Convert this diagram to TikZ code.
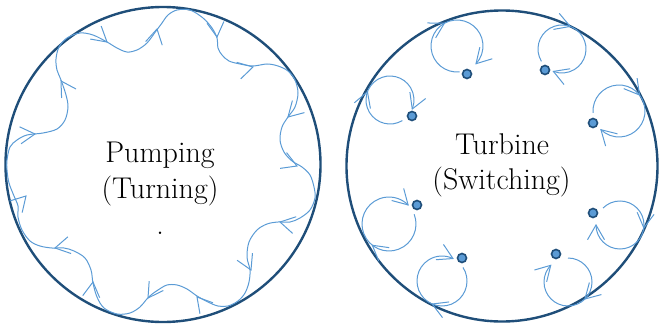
\documentclass[tikz,border=0pt]{standalone}
\definecolor{dkb}{RGB}{31,78,121}
\definecolor{ltb}{RGB}{91,155,213}
\newcommand\chevr[3]{\draw[chev] (#1,#2) ++(#3+150:17) -- (#1,#2) -- ++(#3-150:17);}
\newcommand\loopc[6]{%
  \draw[wave] (#1,#2) ++(#4:#3) arc[start angle=#4, end angle=#5, radius=#3];
  \path (#1,#2) ++(#5:#3) coordinate (tA) (#1,#2) ++(#6:#3) coordinate (tB);
  \draw[chev] (tA) ++(#5+240:17) -- (tA) -- ++(#5-60:17);
  \draw[chev] (tB) ++(#6+240:17) -- (tB) -- ++(#6-60:17);}
\begin{document}
\begin{tikzpicture}[x=1pt,y=-1pt,
  rim/.style={draw=dkb,line width=2.4pt},
  wave/.style={draw=ltb,line width=1pt},
  chev/.style={draw=ltb,line width=1pt},
  pivot/.style={circle,draw=dkb,fill=ltb,line width=1.6pt,minimum size=9pt,inner sep=0pt},
  lbl/.style={font=\fontsize{30}{36}\selectfont,inner sep=0pt,anchor=base}]
\useasboundingbox (0,0) rectangle (659,324);
% left: pumping
\draw[rim] (163,164.5) circle[radius=157.5];
\draw[wave] plot[smooth cycle, tension=0.55] coordinates {
(7,160) (10,147) (17,140) (27,135) (43,133) (57,129) (65,120) (68,107) (66,95) (61,80)
(57,70) (56,59) (59,47) (67,38) (80,33) (93,35) (107,42) (117,48) (127,52) (137,50)
(147,43) (156,31) (162,23) (168,15) (177,10) (190,10) (203,18) (212,28) (217,38) (218,48)
(222,55) (229,61) (240,64) (253,66) (267,64) (278,66) (288,71) (295,80) (298,93) (295,107)
(288,117) (282,127) (280,140) (284,152) (292,161) (302,167) (310,175) (314,187) (315,198) (310,210)
(300,218) (290,222) (278,222) (267,224) (257,230) (249,242) (247,257) (250,270) (249,282) (245,293)
(238,301) (228,306) (218,306) (208,302) (197,296) (187,289) (177,285) (167,285) (158,290) (151,295)
(146,300) (140,307) (130,313) (117,314) (104,308) (97,297) (93,283) (91,270) (85,258) (74,251)
(64,248) (52,248) (40,246) (30,241) (22,230) (18,217) (18,206) (14,196) (9,183) (7,170)};
\chevr{35}{134}{-5}
\chevr{61}{81}{-122}
\chevr{107}{42}{40}
\chevr{157}{29}{-78}
\chevr{217}{37}{84}
\chevr{253}{67}{-14}
\chevr{288}{117}{135}
\chevr{297}{166}{22}
\chevr{280}{222}{192}
\chevr{251}{270}{65}
\chevr{197}{297}{230}
\chevr{148}{298}{124}
\chevr{93}{282}{-83}
\chevr{55}{248}{169}
\chevr{26}{196}{-47}
\node[lbl] (pump) at (160,162) {Pumping};
\node[lbl] (turn) at (160,198) {(Turning)};
\node[lbl] (dot) at (160,234.5) {.};
% right: turbine
\draw[rim] (502,166) circle[radius=155.5];
\loopc{390}{100}{24}{59}{382}{200}
\loopc{457}{46}{26}{84}{403}{241}
\loopc{562}{49}{24}{149}{471}{290}
\loopc{619}{111}{26}{176}{494}{322}
\loopc{389}{224}{27}{-21}{315}{128}
\loopc{442}{281}{25}{-33}{296}{113}
\loopc{620}{225}{24}{225}{540}{7}
\loopc{568}{282}{24}{270}{584}{45}
\node[pivot] (dA) at (412,116) {};
\node[pivot] (dB) at (467,74) {};
\node[pivot] (dC) at (545,70) {};
\node[pivot] (dD) at (593,123) {};
\node[pivot] (dE) at (417,205) {};
\node[pivot] (dF) at (462,258) {};
\node[pivot] (dG) at (593,213) {};
\node[pivot] (dH) at (556,254) {};
\node[lbl] (turb) at (502,154) {Turbine};
\node[lbl] (swit) at (501.5,189) {(Switching)};
\end{tikzpicture}
\end{document}
